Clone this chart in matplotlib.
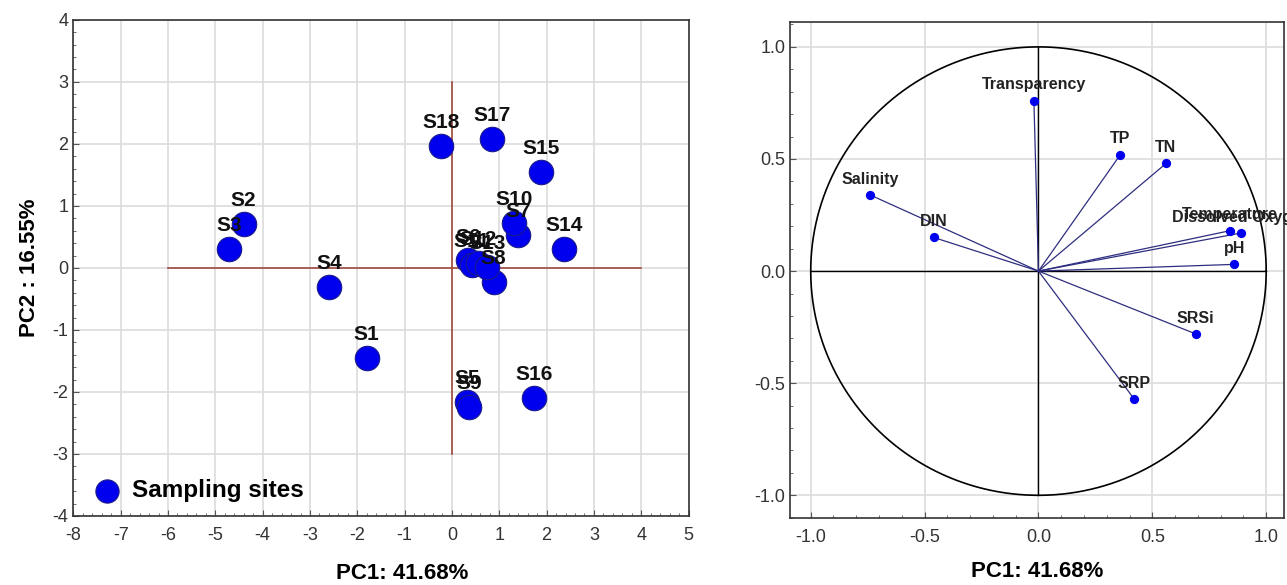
import matplotlib.pyplot as plt
from matplotlib.ticker import AutoMinorLocator, MultipleLocator
import numpy as np

plt.rcParams['font.family'] = ['Liberation Sans', 'DejaVu Sans']
plt.rcParams['axes.unicode_minus'] = False

# PCA site scores (left panel)
sites = ['S1', 'S2', 'S3', 'S4', 'S5', 'S6', 'S7', 'S8', 'S9',
         'S10', 'S11', 'S12', 'S13', 'S14', 'S15', 'S16', 'S17', 'S18']
pc1_scores = [-1.80, -4.40, -4.71, -2.60, 0.32, 0.35, 1.40, 0.88, 0.36,
              1.31, 0.42, 0.55, 0.75, 2.37, 1.88, 1.73, 0.85, -0.23]
pc2_scores = [-1.45, 0.71, 0.31, -0.30, -2.16, 0.12, 0.53, -0.22, -2.24,
              0.72, 0.05, 0.08, 0.02, 0.31, 1.55, -2.10, 2.08, 1.97]

# variable loadings (right panel)
variables = ['Transparency', 'TP', 'TN', 'Salinity', 'DIN', 'Temperature',
             'Dissolved Oxygen', 'pH', 'SRSi', 'SRP']
load_pc1 = [-0.02, 0.36, 0.56, -0.74, -0.46, 0.84, 0.89, 0.86, 0.69, 0.42]
load_pc2 = [0.76, 0.52, 0.48, 0.34, 0.15, 0.18, 0.17, 0.03, -0.28, -0.57]

fig = plt.figure(figsize=(12.87, 5.85), dpi=100)
ax1 = fig.add_axes([0.057, 0.118, 0.478, 0.848])
ax2 = fig.add_axes([0.614, 0.115, 0.384, 0.847])

grid_col = '#dcdcdc'
tick_col = '#333333'

# ---- left: site scores
ax1.set_axisbelow(True)
ax1.set_xlim(-8, 5)
ax1.set_ylim(-4, 4)
ax1.xaxis.set_major_locator(MultipleLocator(1))
ax1.yaxis.set_major_locator(MultipleLocator(1))
ax1.xaxis.set_minor_locator(AutoMinorLocator(5))
ax1.yaxis.set_minor_locator(AutoMinorLocator(5))
ax1.grid(True, color=grid_col, linewidth=1.2)
ax1.plot([-6, 4], [0, 0], color='#a0483c', linewidth=1.2, zorder=1)
ax1.plot([0, 0], [-3, 3], color='#a0483c', linewidth=1.2, zorder=1)
ax1.scatter(pc1_scores, pc2_scores, s=310, color='#0000ee', edgecolor='#1a1a8a',
            linewidth=0.8, zorder=3, label='Sampling sites')
for name, x, y in zip(sites, pc1_scores, pc2_scores):
    ax1.annotate(name, (x, y), xytext=(0, 10), textcoords='offset points',
                 ha='center', va='bottom', fontsize=15, fontweight='bold',
                 color='#111111', zorder=4)
ax1.legend(loc='lower left', frameon=False, prop={'weight': 'bold', 'size': 17.5},
           handletextpad=0.0, borderaxespad=0.0, scatterpoints=1, markerscale=0.95,
           bbox_to_anchor=(0.0, 0.008))
ax1.set_xlabel('PC1: 41.68%', fontsize=16, fontweight='bold')
ax1.xaxis.set_label_coords(0.535, -0.095)
ax1.set_ylabel('PC2 : 16.55%', fontsize=16, fontweight='bold', labelpad=9)

# ---- right: loadings circle
ax2.set_axisbelow(True)
ax2.set_xlim(-1.09, 1.08)
ax2.set_ylim(-1.10, 1.11)
ax2.xaxis.set_major_locator(MultipleLocator(0.5))
ax2.yaxis.set_major_locator(MultipleLocator(0.5))
ax2.xaxis.set_minor_locator(MultipleLocator(0.1))
ax2.yaxis.set_minor_locator(MultipleLocator(0.1))
ax2.xaxis.set_major_formatter(plt.FormatStrFormatter('%.1f'))
ax2.yaxis.set_major_formatter(plt.FormatStrFormatter('%.1f'))
ax2.grid(True, color=grid_col, linewidth=1.2)
theta = np.linspace(0, 2 * np.pi, 400)
ax2.plot(np.cos(theta), np.sin(theta), color='black', linewidth=1.2, zorder=1)
ax2.plot([-1, 1], [0, 0], color='black', linewidth=1.0, zorder=1)
ax2.plot([0, 0], [-1, 1], color='black', linewidth=1.0, zorder=1)
for name, x, y in zip(variables, load_pc1, load_pc2):
    ax2.plot([0, x], [0, y], color='#2e2e80', linewidth=0.9, zorder=2)
    ax2.annotate(name, (x, y), xytext=(0, 6), textcoords='offset points',
                 ha='center', va='bottom', fontsize=11.5, fontweight='bold',
                 color='#222222', zorder=4, annotation_clip=False).set_clip_on(True)
ax2.scatter(load_pc1, load_pc2, s=32, color='#0000ee', zorder=3)
ax2.set_xlabel('PC1: 41.68%', fontsize=16, fontweight='bold', labelpad=11)

for ax in (ax1, ax2):
    ax.tick_params(which='both', direction='in', labelsize=13, labelcolor=tick_col,
                   color='#555555')
    ax.tick_params(which='major', length=4)
    ax.tick_params(which='minor', length=2)
    ax.tick_params(axis='x', pad=8)
    for sp in ax.spines.values():
        sp.set_color('#333333')
        sp.set_linewidth(1.2)

fig.savefig('out.png', dpi=100)
